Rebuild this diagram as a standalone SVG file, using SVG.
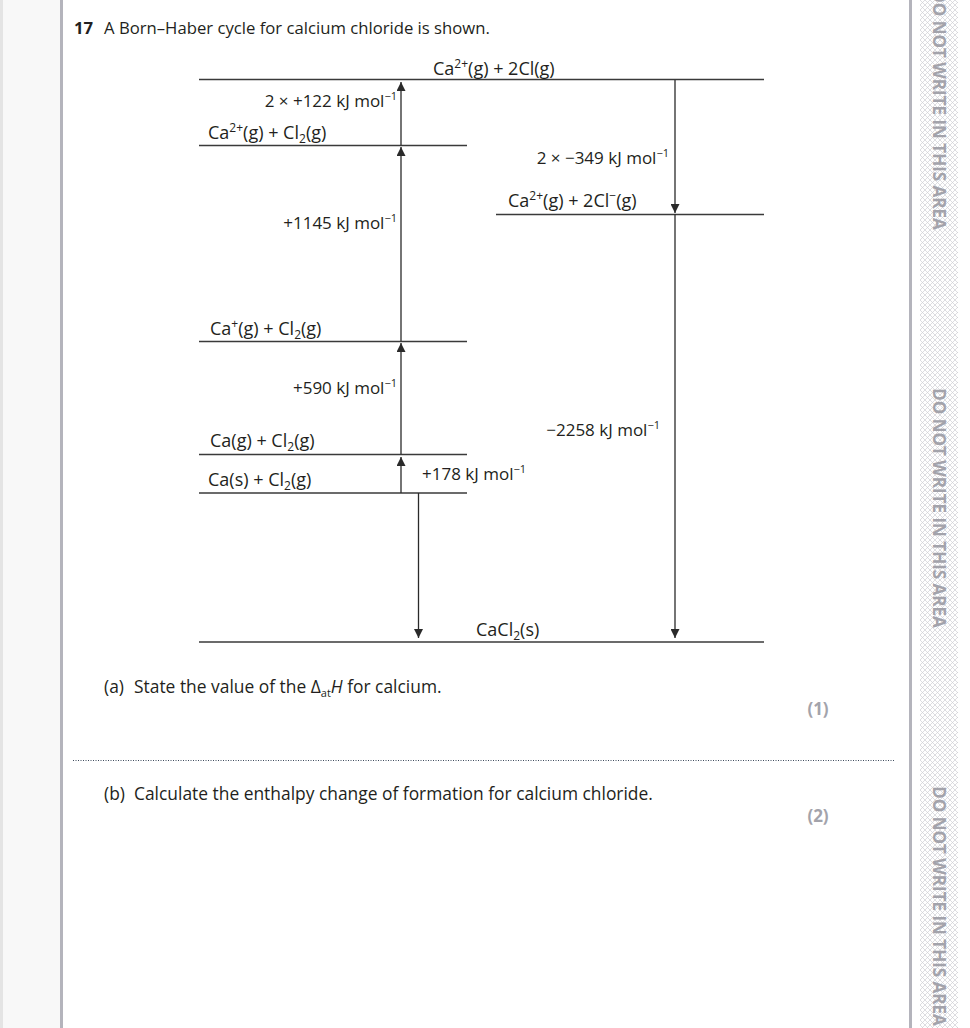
<svg xmlns="http://www.w3.org/2000/svg" width="970" height="1028" viewBox="0 0 970 1028">
<style>
  .t { font-family: "Open Sans", "Noto Sans", "Liberation Sans", sans-serif; font-size: 17px; fill: #231f20; }
  .title { font-size: 16.7px; }
  .q { font-size: 17.4px; }
  .lv { font-size: 18px; }
  .b { font-weight: bold; }
  .mk { font-family: "Open Sans", "Noto Sans", sans-serif; font-size: 17px; font-weight: bold; fill: #a3a3ab; }
  .warn { font-family: "Open Sans", "Noto Sans", sans-serif; font-size: 17px; font-weight: bold; fill: #a3a3ab; }
  .lvl { stroke: #3a3a3a; stroke-width: 1.4; fill: none; }
  .arr { stroke: #2a2a2a; stroke-width: 1.3; fill: none; marker-end: url(#ah); }
  .sm { font-size: 11px; }
  .sl { font-size: 12px; }
</style>
<defs>
  <marker id="ah" markerUnits="userSpaceOnUse" viewBox="0 0 10 10" refX="10" refY="5" markerWidth="10" markerHeight="9" orient="auto">
    <path d="M0,0 L10,5 L0,10 Z" fill="#2a2a2a"/>
  </marker>
  <pattern id="hatch" patternUnits="userSpaceOnUse" width="5" height="5">
    <rect width="5" height="5" fill="#ffffff"/>
    <path d="M0,0 L5,5 M5,0 L0,5" stroke="#cfcfd4" stroke-width="0.7"/>
  </pattern>
</defs>

<!-- page background and margins -->
<rect x="0" y="0" width="970" height="1028" fill="#ffffff"/>
<g id="left-margin">
  <rect x="0" y="0" width="60" height="1028" fill="#f8f8f8"/>
  <rect x="0" y="0" width="3" height="1028" fill="#e4e4e4"/>
  <rect x="60" y="0" width="3" height="1028" fill="#b4b4bc"/>
</g>
<g id="right-margin">
  <rect x="909" y="0" width="3" height="1028" fill="#b4b4bc"/>
  <rect x="920" y="0" width="38" height="1028" fill="url(#hatch)"/>
  <text class="warn" x="939" y="110" text-anchor="middle" dominant-baseline="central" transform="rotate(90 939 110)">DO NOT WRITE IN THIS AREA</text>
  <text class="warn" x="939" y="508" text-anchor="middle" dominant-baseline="central" transform="rotate(90 939 508)">DO NOT WRITE IN THIS AREA</text>
  <text class="warn" x="939" y="906" text-anchor="middle" dominant-baseline="central" transform="rotate(90 939 906)">DO NOT WRITE IN THIS AREA</text>
</g>

<!-- question heading -->
<g id="heading">
  <text class="t title b" x="74" y="34">17</text>
  <text class="t title" x="104" y="34">A Born–Haber cycle for calcium chloride is shown.</text>
</g>

<!-- energy levels -->
<g id="level-ca2-2cl">
  <line class="lvl" x1="199" y1="79.5" x2="764" y2="79.5"/>
  <text class="t lv" x="433" y="75">Ca<tspan class="sl" dy="-7">2+</tspan><tspan dy="7">(g) + 2Cl(g)</tspan></text>
</g>
<g id="level-ca2-cl2">
  <line class="lvl" x1="199" y1="145.5" x2="467" y2="145.5"/>
  <text class="t lv" x="208" y="139">Ca<tspan class="sl" dy="-7">2+</tspan><tspan dy="7">(g) + Cl</tspan><tspan class="sl" dy="4">2</tspan><tspan dy="-4">(g)</tspan></text>
</g>
<g id="level-ca2-2clminus">
  <line class="lvl" x1="496" y1="214.5" x2="764" y2="214.5"/>
  <text class="t lv" x="508" y="207">Ca<tspan class="sl" dy="-7">2+</tspan><tspan dy="7">(g) + 2Cl</tspan><tspan class="sl" dy="-7">−</tspan><tspan dy="7">(g)</tspan></text>
</g>
<g id="level-caplus-cl2">
  <line class="lvl" x1="199" y1="341.5" x2="467" y2="341.5"/>
  <text class="t lv" x="210" y="335">Ca<tspan class="sl" dy="-7">+</tspan><tspan dy="7">(g) + Cl</tspan><tspan class="sl" dy="4">2</tspan><tspan dy="-4">(g)</tspan></text>
</g>
<g id="level-cag-cl2">
  <line class="lvl" x1="199" y1="454.5" x2="467" y2="454.5"/>
  <text class="t lv" x="210" y="447">Ca(g) + Cl<tspan class="sl" dy="4">2</tspan><tspan dy="-4">(g)</tspan></text>
</g>
<g id="level-cas-cl2">
  <line class="lvl" x1="199" y1="493" x2="467" y2="493"/>
  <text class="t lv" x="208" y="486">Ca(s) + Cl<tspan class="sl" dy="4">2</tspan><tspan dy="-4">(g)</tspan></text>
</g>
<g id="level-cacl2">
  <line class="lvl" x1="199" y1="642" x2="764" y2="642"/>
  <text class="t lv" x="476" y="636">CaCl<tspan class="sl" dy="4">2</tspan><tspan dy="-4">(s)</tspan></text>
</g>

<!-- connectors -->
<g id="connectors">
  <line class="arr" x1="401" y1="145" x2="401" y2="82"/>
  <line class="arr" x1="401" y1="341" x2="401" y2="147"/>
  <line class="arr" x1="401" y1="454" x2="401" y2="343"/>
  <line class="arr" x1="401" y1="493" x2="401" y2="457"/>
  <line class="arr" x1="418.5" y1="493" x2="418.5" y2="638"/>
  <line class="arr" x1="675" y1="80" x2="675" y2="213"/>
  <line class="arr" x1="675" y1="214" x2="675" y2="638"/>
</g>

<!-- connector labels -->
<g id="labels">
  <text class="t" x="397" y="107" text-anchor="end">2 × +122 kJ mol<tspan class="sm" dy="-7">−1</tspan></text>
  <text class="t" x="669" y="164" text-anchor="end">2 × −349 kJ mol<tspan class="sm" dy="-7">−1</tspan></text>
  <text class="t" x="397" y="229" text-anchor="end">+1145 kJ mol<tspan class="sm" dy="-7">−1</tspan></text>
  <text class="t" x="397" y="394" text-anchor="end">+590 kJ mol<tspan class="sm" dy="-7">−1</tspan></text>
  <text class="t" x="422" y="480">+178 kJ mol<tspan class="sm" dy="-7">−1</tspan></text>
  <text class="t" x="660" y="436" text-anchor="end">−2258 kJ mol<tspan class="sm" dy="-7">−1</tspan></text>
</g>

<!-- questions -->
<g id="question-a">
  <text class="t q" x="104" y="693">(a)</text>
  <text class="t q" x="134" y="693">State the value of the Δ<tspan class="sm" dy="4">at</tspan><tspan dy="-4" font-style="italic">H</tspan> for calcium.</text>
  <text class="mk" x="818" y="715" text-anchor="middle">(1)</text>
  <line x1="73" y1="760.5" x2="894" y2="760.5" stroke="#3d4a5c" stroke-width="1" stroke-dasharray="1 1.5"/>
</g>
<g id="question-b">
  <text class="t q" x="104" y="800">(b)</text>
  <text class="t q" x="134" y="800">Calculate the enthalpy change of formation for calcium chloride.</text>
  <text class="mk" x="818" y="822" text-anchor="middle">(2)</text>
</g>
</svg>
